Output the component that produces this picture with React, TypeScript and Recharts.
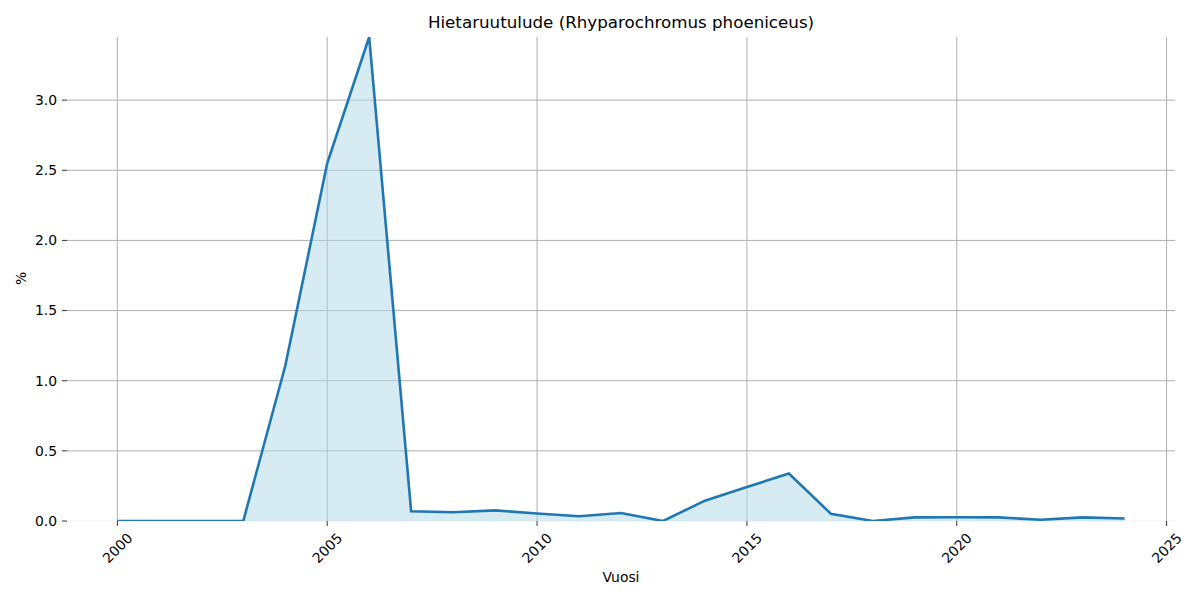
import React from 'react';
import { AreaChart, Area, XAxis, YAxis, CartesianGrid } from 'recharts';

const years = [2000, 2001, 2002, 2003, 2004, 2005, 2006, 2007, 2008, 2009, 2010, 2011, 2012, 2013, 2014, 2015, 2016, 2017, 2018, 2019, 2020, 2021, 2022, 2023, 2024];
const values = [0, 0, 0, 0, 1.105, 2.55, 3.45, 0.069, 0.062, 0.076, 0.053, 0.034, 0.057, 0.0, 0.145, 0.242, 0.338, 0.052, 0.0, 0.026, 0.027, 0.026, 0.009, 0.026, 0.018];
const xTicks = [2000, 2005, 2010, 2015, 2020, 2025];
const yTicks = [0, 0.5, 1.0, 1.5, 2.0, 2.5, 3.0];
const title = 'Hietaruutulude (Rhyparochromus phoeniceus)';
const xLabel = 'Vuosi';
const yLabel = '%';

const data = years.map((y, i) => ({ year: y, value: values[i] }));

const FONT = '"DejaVu Sans", sans-serif';
const PLOT_LEFT = 67;
const PLOT_RIGHT = 1175;
const PLOT_TOP = 37;
const PLOT_BOTTOM = 521;

const XTick = (props: any) => {
  const { x, y, payload } = props;
  return (
    <g transform={`translate(${x},${y + 17})`}>
      <text x={0} y={0} transform="rotate(-45)" textAnchor="middle" dominantBaseline="central" fontSize={13.9} fontFamily={FONT} fill="#000">
        {payload.value}
      </text>
    </g>
  );
};

const vLine = (p: any) => {
  const x = Number(p.x1);
  if (Math.abs(x - PLOT_LEFT) < 1 || Math.abs(x - PLOT_RIGHT) < 1) return <g key={p.key} />;
  return <line key={p.key} x1={p.x1} x2={p.x2} y1={p.y1} y2={p.y2} stroke="#b0b0b0" strokeWidth={1} />;
};

const hLine = (p: any) => {
  const y = Number(p.y1);
  if (Math.abs(y - PLOT_TOP) < 1) return <g key={p.key} />;
  if (Math.abs(y - PLOT_BOTTOM) < 1) return <line key={p.key} x1={p.x1} x2={p.x2} y1={p.y1} y2={p.y2} stroke="#f2f2f2" strokeWidth={1} />;
  return <line key={p.key} x1={p.x1} x2={p.x2} y1={p.y1} y2={p.y2} stroke="#b0b0b0" strokeWidth={1} />;
};

export default function App() {
  return (
    <div style={{ position: 'absolute', left: 0, top: 0, width: 1200, height: 600, background: '#fff', fontFamily: FONT }}>
      <AreaChart width={1200} height={600} data={data} margin={{ top: PLOT_TOP, right: 1200 - PLOT_RIGHT, bottom: 0, left: 0 }}>
        <CartesianGrid horizontal={hLine} vertical={vLine} />
        <XAxis
          dataKey="year"
          type="number"
          domain={[1998.8, 2025.2]}
          ticks={xTicks}
          allowDataOverflow
          axisLine={false}
          tickLine={{ stroke: '#000', strokeWidth: 0.8 }}
          tickSize={5}
          tickMargin={5}
          height={600 - PLOT_BOTTOM}
          tick={<XTick />}
          interval={0}
        />
        <YAxis
          type="number"
          domain={[0, 3.45]}
          ticks={yTicks}
          allowDataOverflow
          axisLine={false}
          tickLine={{ stroke: '#000', strokeWidth: 0.8 }}
          tickSize={5}
          tickMargin={5}
          width={PLOT_LEFT}
          tickFormatter={(v: number) => v.toFixed(1)}
          tick={{ fontSize: 13.9, fontFamily: FONT, fill: '#000' }}
          interval={0}
        />
        <Area
          type="linear"
          dataKey="value"
          stroke="#1f77b4"
          strokeWidth={2.6}
          fill="#add8e6"
          fillOpacity={0.5}
          isAnimationActive={false}
          dot={false}
          activeDot={false}
        />
      </AreaChart>
      <div style={{ position: 'absolute', left: 0, width: 1242, top: 12, textAlign: 'center', fontSize: 16.7, lineHeight: '20px', color: '#000' }}>{title}</div>
      <div style={{ position: 'absolute', left: 0, width: 1242, top: 569, textAlign: 'center', fontSize: 13.9, lineHeight: '17px', color: '#000' }}>{xLabel}</div>
      <div style={{ position: 'absolute', left: 13, top: 270, width: 17, height: 17, fontSize: 13.9, lineHeight: '17px', color: '#000', transform: 'rotate(-90deg)', textAlign: 'center' }}>{yLabel}</div>
    </div>
  );
}
